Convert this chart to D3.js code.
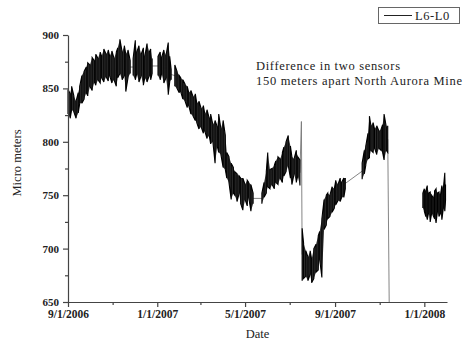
<!DOCTYPE html>
<html lang="en">
<head>
<meta charset="UTF-8">
<title>L6-L0</title>
<style>
  body { margin: 0; background: #fff; }
  svg text { font-family: "Liberation Serif", "DejaVu Serif", serif; fill: #222; }
</style>
</head>
<body>
<div id="chart"></div>
<script src="https://cdn.jsdelivr.net/npm/d3@7"></script>
<script>
// readings: [date, low, high] of the noisy trace
var seg1 = [
  ["2006-09-01",826,849],["2006-09-04",822,845],["2006-09-06",830,852],["2006-09-09",828,843],
  ["2006-09-12",822,838],["2006-09-15",827,846],["2006-09-17",836,852],["2006-09-20",836,862],
  ["2006-09-23",840,866],["2006-09-26",846,870],["2006-09-28",843,874],["2006-10-01",852,872],
  ["2006-10-04",848,879],["2006-10-07",856,876],["2006-10-09",853,882],["2006-10-12",858,878],
  ["2006-10-15",855,884],["2006-10-17",860,880],["2006-10-20",856,887],["2006-10-23",861,882],
  ["2006-10-26",857,886],["2006-10-28",862,880],["2006-10-31",855,885],["2006-11-03",858,878],
  ["2006-11-06",852,884],["2006-11-08",860,888],["2006-11-11",864,896],["2006-11-14",858,884],
  ["2006-11-17",862,890],["2006-11-19",847,882],["2006-11-22",860,886],["2006-11-25",864,876]
];
var seg2 = [
  ["2006-11-29",862,878],["2006-12-02",858,895],["2006-12-04",864,884],["2006-12-07",856,890],
  ["2006-12-10",862,882],["2006-12-13",853,888],["2006-12-15",860,880],["2006-12-18",856,892],
  ["2006-12-21",862,884],["2006-12-23",858,887],["2006-12-25",864,878]
];
var seg3 = [
  ["2007-01-02",862,880],["2007-01-05",858,884],["2007-01-07",864,879],["2007-01-10",855,886],
  ["2007-01-13",860,881],["2007-01-16",844,893],["2007-01-18",856,880],["2007-01-20",858,868]
];
var seg4 = [
  ["2007-01-25",852,872],["2007-01-28",850,866],["2007-01-31",846,862],["2007-02-02",847,860],
  ["2007-02-05",840,858],["2007-02-08",838,854],["2007-02-11",832,852],["2007-02-13",834,846],
  ["2007-02-16",826,848],["2007-02-19",824,842],["2007-02-22",820,845],["2007-02-24",818,836],
  ["2007-02-27",812,838],["2007-03-02",814,831],["2007-03-05",808,834],["2007-03-07",810,826],
  ["2007-03-10",803,830],["2007-03-13",806,822],["2007-03-15",798,826],["2007-03-18",800,816],
  ["2007-03-21",780,820],["2007-03-24",796,814],["2007-03-26",790,826],["2007-03-29",788,812],
  ["2007-04-01",776,820],["2007-04-04",774,806],["2007-04-06",766,790],["2007-04-09",762,786],
  ["2007-04-12",746,780],["2007-04-15",752,776],["2007-04-17",750,772],["2007-04-20",744,770],
  ["2007-04-23",752,768],["2007-04-25",742,766],["2007-04-28",736,766],["2007-05-01",746,760],
  ["2007-05-04",740,764],["2007-05-06",748,762],["2007-05-09",735,760],["2007-05-12",742,752]
];
var seg5 = [
  ["2007-05-24",742,752],["2007-05-27",748,762],["2007-05-30",752,772],["2007-06-01",758,790],
  ["2007-06-04",756,774],["2007-06-07",760,775],["2007-06-10",756,778],["2007-06-12",762,782],
  ["2007-06-15",760,786],["2007-06-18",766,784],["2007-06-21",762,790],["2007-06-23",768,795],
  ["2007-06-26",772,800],["2007-06-29",778,806],["2007-07-02",766,796],["2007-07-04",760,786],
  ["2007-07-07",770,784],["2007-07-10",762,792],["2007-07-12",768,786],["2007-07-15",759,783]
];
var spike1 = [["2007-07-17",819,819]];
var seg6 = [
  ["2007-07-18",670,719],["2007-07-20",672,705],["2007-07-23",674,698],["2007-07-26",670,692],
  ["2007-07-29",676,698],["2007-07-31",668,690],["2007-08-03",672,700],["2007-08-06",678,704],
  ["2007-08-09",680,712],["2007-08-11",690,716],["2007-08-14",673,728],["2007-08-17",718,746],
  ["2007-08-20",722,750],["2007-08-22",728,752],["2007-08-25",730,750],["2007-08-28",734,758],
  ["2007-08-31",738,756],["2007-09-02",741,764],["2007-09-05",745,760],["2007-09-08",744,766],
  ["2007-09-10",748,762],["2007-09-13",748,766],["2007-09-15",756,766]
];
var seg7 = [
  ["2007-10-08",765,780],["2007-10-11",770,792],["2007-10-13",778,796],["2007-10-16",784,808],
  ["2007-10-18",785,824],["2007-10-20",792,815],["2007-10-23",790,818],["2007-10-25",794,812],
  ["2007-10-28",788,815],["2007-10-31",794,810],["2007-11-03",792,812],["2007-11-05",790,816],
  ["2007-11-07",783,826],["2007-11-10",792,814],["2007-11-12",790,815]
];
var drop1 = [["2007-11-14",650,650]];
var seg8 = [
  ["2007-12-30",738,752],["2008-01-01",735,756],["2008-01-03",730,754],["2008-01-05",727,759],
  ["2008-01-07",734,752],["2008-01-09",725,753],["2008-01-11",733,750],["2008-01-13",731,748],
  ["2008-01-15",728,754],["2008-01-17",724,756],["2008-01-19",735,752],["2008-01-21",730,753],
  ["2008-01-23",733,750],["2008-01-25",727,759],["2008-01-27",738,756],["2008-01-29",735,771],
  ["2008-01-30",745,760]
];

var segments = [seg1, seg2, seg3, seg4, seg5, spike1, seg6, seg7, drop1, seg8];
// pairs of segments joined by the plotting program's straight line over a gap
var links = [[0,1],[1,2],[2,3],[3,4],[4,5],[5,6],[6,7],[7,8]];

var xMajor = ["2006-09-01","2007-01-01","2007-05-01","2007-09-01","2008-01-01"];
var xMinor = ["2006-11-01","2007-03-01","2007-07-01","2007-11-01"];
var yMajor = [650, 700, 750, 800, 850, 900];
var yMinor = [675, 725, 775, 825, 875];
var titleLines = ["Difference in two sensors", "150 meters apart North Aurora Mine"];
var seriesName = "L6-L0";

var W = 466, H = 343;
var margin = {top: 35, right: 19, bottom: 41, left: 68};
var parse = d3.timeParse("%Y-%m-%d");

var svg = d3.select("#chart").append("svg")
  .attr("width", W)
  .attr("height", H);

var x = d3.scaleTime()
  .domain([parse("2006-09-01"), parse("2008-02-01")])
  .range([margin.left, W - margin.right]);
var y = d3.scaleLinear()
  .domain([650, 900])
  .range([H - margin.bottom, margin.top]);

var data = segments.map(function(s){
  return s.map(function(r){ return {d: parse(r[0]), lo: r[1], hi: r[2]}; });
});

// gap lines
var line = d3.line().x(function(p){ return x(p.d); }).y(function(p){ return y(p.v); });
svg.append("g").selectAll("path")
  .data(links)
  .enter().append("path")
  .attr("d", function(l){
    var a = data[l[0]][data[l[0]].length - 1], b = data[l[1]][0];
    return line([{d: a.d, v: (a.lo + a.hi) / 2}, {d: b.d, v: (b.lo + b.hi) / 2}]);
  })
  .attr("fill", "none")
  .attr("stroke", "#777")
  .attr("stroke-width", 0.9);

// noisy trace: soft low/high band plus a zigzag between the readings
var area = d3.area()
  .x(function(p){ return x(p.d); })
  .y0(function(p){ return y(p.lo); })
  .y1(function(p){ return y(p.hi); });
var multi = data.filter(function(s){ return s.length > 1; });
svg.append("g").selectAll("path")
  .data(multi)
  .enter().append("path")
  .attr("d", area)
  .attr("fill", "#333")
  .attr("stroke", "none");

svg.append("g").selectAll("path")
  .data(multi)
  .enter().append("path")
  .attr("d", function(s){
    var pts = [];
    s.forEach(function(p, i){
      if (i % 2) { pts.push({d: p.d, v: p.hi}); pts.push({d: p.d, v: p.lo}); }
      else { pts.push({d: p.d, v: p.lo}); pts.push({d: p.d, v: p.hi}); }
    });
    return line(pts);
  })
  .attr("fill", "none")
  .attr("stroke", "#000")
  .attr("stroke-width", 1.1);

// axes
var fmt = d3.timeFormat("%-m/%-d/%Y");
var gx = svg.append("g").attr("transform", "translate(0," + (H - margin.bottom) + ")");
gx.call(d3.axisBottom(x).tickValues(xMajor.map(parse)).tickFormat(fmt).tickSize(5).tickSizeOuter(0));
var gxm = svg.append("g").attr("transform", "translate(0," + (H - margin.bottom) + ")");
gxm.call(d3.axisBottom(x).tickValues(xMinor.map(parse)).tickFormat("").tickSize(3).tickSizeOuter(0));
gxm.select(".domain").remove();

var gy = svg.append("g").attr("transform", "translate(" + margin.left + ",0)");
gy.call(d3.axisLeft(y).tickValues(yMajor).tickSize(5).tickSizeOuter(0).tickPadding(4));
var gym = svg.append("g").attr("transform", "translate(" + margin.left + ",0)");
gym.call(d3.axisLeft(y).tickValues(yMinor).tickFormat("").tickSize(3).tickSizeOuter(0));
gym.select(".domain").remove();

svg.selectAll(".domain, .tick line").attr("stroke", "#444").attr("stroke-width", 1.2);
svg.selectAll(".tick text")
  .attr("fill", "#222")
  .style("font-family", "'Liberation Serif', serif")
  .style("font-weight", "bold")
  .style("font-size", "11px");
gx.selectAll(".tick text").style("font-size", "11.5px").attr("dy", "0.9em").attr("y", 6);

// axis titles
svg.append("text")
  .attr("x", (margin.left + W - margin.right) / 2)
  .attr("y", 338)
  .attr("text-anchor", "middle")
  .style("font-size", "12.5px")
  .text("Date");
svg.append("text")
  .attr("transform", "translate(21,163) rotate(-90)")
  .attr("text-anchor", "middle")
  .style("font-size", "12.5px")
  .text("Micro meters");

// annotation
var widths = [144, 206];
svg.append("g").selectAll("text")
  .data(titleLines)
  .enter().append("text")
  .attr("x", 256)
  .attr("y", function(d, i){ return 70 + i * 15; })
  .attr("textLength", function(d, i){ return widths[i]; })
  .attr("lengthAdjust", "spacing")
  .style("font-size", "12.5px")
  .text(function(d){ return d; });

// legend
var lg = svg.append("g").attr("transform", "translate(378,7)");
lg.append("rect")
  .attr("x", 0.5).attr("y", 0.5)
  .attr("width", 81).attr("height", 16)
  .attr("fill", "#fff")
  .attr("stroke", "#666");
lg.append("line")
  .attr("x1", 6).attr("x2", 34).attr("y1", 8.5).attr("y2", 8.5)
  .attr("stroke", "#222").attr("stroke-width", 1);
lg.append("text")
  .attr("x", 37).attr("y", 12.5)
  .style("font-size", "12.5px")
  .style("letter-spacing", "0.6px")
  .attr("fill", "#333")
  .text(seriesName);
</script>
</body>
</html>
